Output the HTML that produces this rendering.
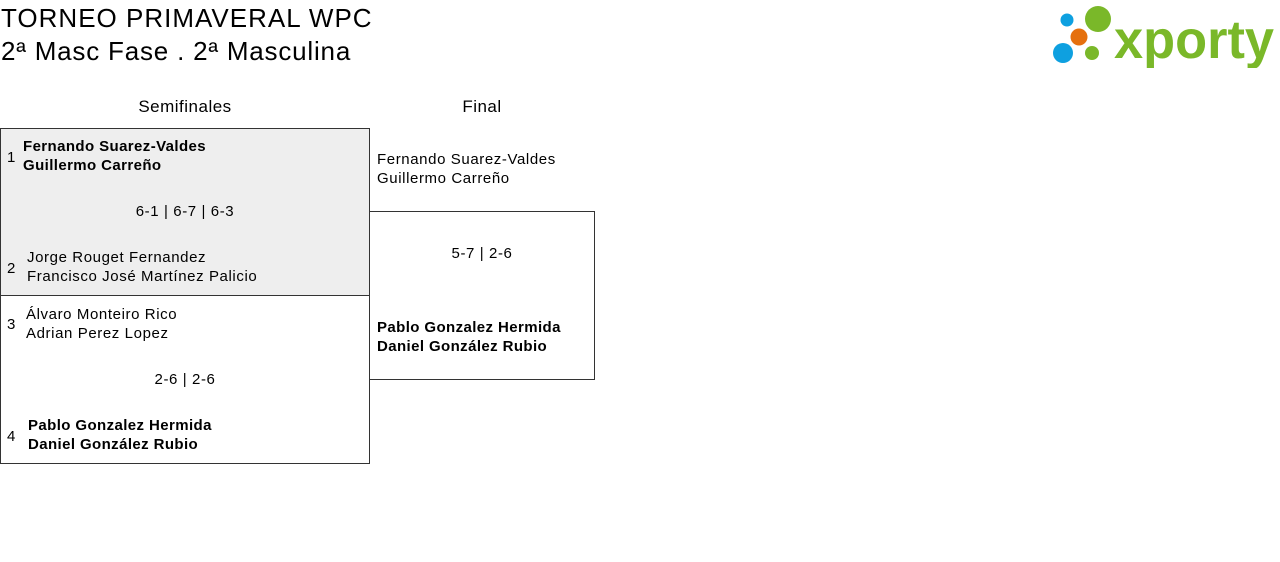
<!DOCTYPE html>
<html><head><meta charset="utf-8"><style>
body{margin:0;width:1280px;height:562px;background:#fff;font-family:"Liberation Sans",sans-serif;color:#000;position:relative;overflow:hidden}
.a{position:absolute;white-space:nowrap}
.n{font-size:15px;line-height:19px;letter-spacing:0.6px}
.b{font-weight:bold;letter-spacing:0.4px}
.box{position:absolute;border:1px solid #333;box-sizing:border-box}
</style></head><body>
<div class="a" style="left:1px;top:2px;font-size:26px;line-height:32px;letter-spacing:1px">TORNEO PRIMAVERAL WPC</div>
<div class="a" style="left:1px;top:35px;font-size:26px;line-height:32px;letter-spacing:0.8px">2ª Masc Fase . 2ª Masculina</div>
<svg class="a" style="left:1050px;top:4px" width="228" height="64">
<circle cx="17" cy="16" r="6.5" fill="#0ea0e0"/>
<circle cx="48" cy="15" r="13" fill="#7ab829"/>
<circle cx="29" cy="33" r="8.5" fill="#e5700e"/>
<circle cx="13" cy="49" r="10" fill="#0ea0e0"/>
<circle cx="42" cy="49" r="7" fill="#7ab829"/>
<text x="64" y="54" font-family="Liberation Sans" font-weight="bold" font-size="54" fill="#7ab829" textLength="160" lengthAdjust="spacingAndGlyphs">xporty</text>
</svg>
<div class="a" style="left:0;width:370px;top:96px;text-align:center;font-size:17px;line-height:22px;letter-spacing:0.5px">Semifinales</div>
<div class="a" style="left:369px;width:226px;top:96px;text-align:center;font-size:17px;line-height:22px;letter-spacing:0.5px">Final</div>
<div class="box" style="left:0;top:128px;width:370px;height:168px;background:#eee"></div>
<div class="box" style="left:0;top:295px;width:370px;height:169px"></div>
<div class="box" style="left:369px;top:211px;width:226px;height:169px"></div>
<div class="a n" style="left:7px;top:148px">1</div>
<div class="a n b" style="left:23px;top:137px">Fernando Suarez-Valdes<br>Guillermo Carreño</div>
<div class="a n" style="left:0;width:370px;text-align:center;top:202px">6-1 | 6-7 | 6-3</div>
<div class="a n" style="left:7px;top:259px">2</div>
<div class="a n" style="left:27px;top:248px">Jorge Rouget Fernandez<br>Francisco José Martínez Palicio</div>
<div class="a n" style="left:7px;top:315px">3</div>
<div class="a n" style="left:26px;top:305px">Álvaro Monteiro Rico<br>Adrian Perez Lopez</div>
<div class="a n" style="left:0;width:370px;text-align:center;top:370px">2-6 | 2-6</div>
<div class="a n" style="left:7px;top:427px">4</div>
<div class="a n b" style="left:28px;top:416px">Pablo Gonzalez Hermida<br>Daniel González Rubio</div>
<div class="a n" style="left:377px;top:150px">Fernando Suarez-Valdes<br>Guillermo Carreño</div>
<div class="a n" style="left:369px;width:226px;text-align:center;top:244px">5-7 | 2-6</div>
<div class="a n b" style="left:377px;top:318px">Pablo Gonzalez Hermida<br>Daniel González Rubio</div>
</body></html>
